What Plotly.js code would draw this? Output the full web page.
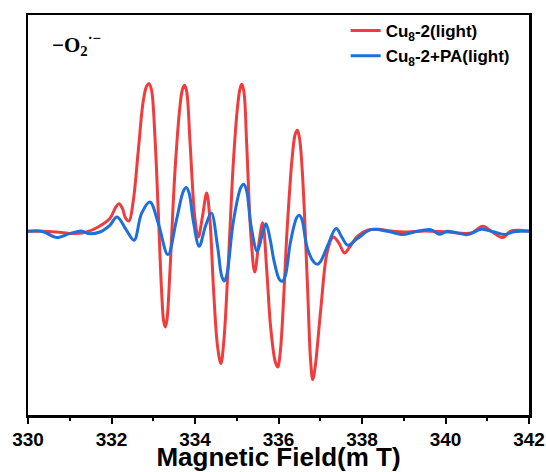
<!DOCTYPE html>
<html>
<head>
<meta charset="utf-8">
<script src="https://cdn.plot.ly/plotly-3.0.1.min.js"></script>
<style>html,body{margin:0;padding:0;background:#fff;}#chart{width:546px;height:472px;}</style>
</head>
<body>
<div id="chart"></div>
<script>
// Magnetic field (mT) and EPR signal (arbitrary units)
const redX = [330.00, 330.30, 330.68, 331.08, 331.40, 331.68, 331.96, 332.10, 332.18, 332.26, 332.34, 332.42, 332.52, 332.64, 332.76, 332.84, 332.90, 332.96, 333.04, 333.12, 333.20, 333.25, 333.29, 333.33, 333.40, 333.52, 333.64, 333.70, 333.75, 333.80, 333.88, 334.00, 334.08, 334.18, 334.28, 334.36, 334.44, 334.54, 334.62, 334.69, 334.80, 334.92, 335.02, 335.08, 335.12, 335.17, 335.24, 335.34, 335.43, 335.52, 335.62, 335.72, 335.81, 335.92, 335.98, 336.04, 336.21, 336.33, 336.40, 336.45, 336.50, 336.57, 336.69, 336.77, 336.82, 336.88, 337.01, 337.17, 337.31, 337.45, 337.58, 337.70, 337.89, 338.13, 338.40, 338.69, 339.09, 339.49, 340.05, 340.61, 340.89, 341.10, 341.37, 341.55, 341.73, 342.00];
const redY = [0, 0, -0.7, -2.3, -0.7, 4.3, 12.7, 24, 27.5, 23, 13, 10.3, 30, 80, 130, 145, 147.7, 141, 95, 20, -60, -90, -95.7, -88, -40, 60, 125, 142, 146, 140, 90, 12, -5.7, 15, 38.3, 10, -55, -115, -132.3, -110, -30, 70, 125, 143, 147, 140, 85, -5, -40.7, -15, 8.5, -40, -95, -130, -135.7, -122, 4.3, 75, 97, 101, 94, 60, -50, -130, -148.3, -135, -79, -20, -5.7, -12, -21.7, -16, -5, 1, 2, 0.3, -0.7, 0.3, -0.7, -1.7, 5, 0, -6.3, 0, 1, 0.3];

const blueX = [330.00, 330.28, 330.44, 330.68, 331.00, 331.28, 331.44, 331.72, 331.96, 332.13, 332.36, 332.54, 332.72, 332.92, 333.12, 333.35, 333.56, 333.72, 333.79, 333.86, 333.96, 334.10, 334.25, 334.39, 334.54, 334.64, 334.70, 334.76, 334.92, 335.10, 335.17, 335.24, 335.34, 335.49, 335.60, 335.70, 335.80, 335.89, 336.02, 336.09, 336.16, 336.29, 336.44, 336.50, 336.56, 336.69, 336.85, 336.93, 337.01, 337.17, 337.38, 337.52, 337.66, 337.89, 338.21, 338.61, 338.97, 339.25, 339.65, 339.85, 340.05, 340.53, 340.85, 341.17, 341.41, 341.61, 341.85, 342.00];
const blueY = [0, 0.3, -1.7, -6.3, -2.3, 0.3, -2.3, -0.7, 6, 14.3, 1, -9, 18, 29.3, 8, -23.3, 12, 40, 43.7, 38, 10, -15, 5, 18.3, -15, -45, -49.7, -44, 10, 44, 47, 40, 6, -20, -5, 7.5, -8, -29, -48, -50, -45, -10, 14, 16, 12, -17, -31, -33, -30, -15, 2.7, -6, -14, -7.3, 1.7, 0, -3.3, -0.7, 1.7, -3, 0, -3.3, 2, -0.7, -3.3, -0.7, 0, 0];

const seriesNames = ['Cu<sub>8</sub>-2(light)', 'Cu<sub>8</sub>-2+PA(light)'];
const xTicks = [330, 332, 334, 336, 338, 340, 342];

const traces = [
  {x: redX, y: redY, name: seriesNames[0], type: 'scatter', mode: 'lines',
   line: {color: '#F03C3C', width: 3, shape: 'spline', smoothing: 1}, legendgroup: 'a'},
  {x: blueX, y: blueY, name: seriesNames[1], type: 'scatter', mode: 'lines',
   line: {color: '#1F6FDB', width: 3, shape: 'spline', smoothing: 1}, legendgroup: 'b'}
];

const layout = {
  width: 546, height: 472,
  margin: {l: 28, r: 17, t: 15, b: 57},
  paper_bgcolor: '#fff', plot_bgcolor: '#fff',
  showlegend: true,
  legend: {x: 0.634, xanchor: 'left', y: 1.005, yanchor: 'top', bgcolor: 'rgba(0,0,0,0)',
           font: {family: 'Liberation Sans, Arial, sans-serif', size: 17, weight: 'bold', color: '#000'},
           tracegroupgap: 0},
  xaxis: {range: [330, 342], tickvals: xTicks, ticktext: xTicks.map(String),
          ticks: 'outside', ticklen: 6, tickwidth: 2, tickcolor: '#000',
          minor: {dtick: 1, ticks: 'outside', ticklen: 3, tickwidth: 2, tickcolor: '#000'},
          showline: true, linewidth: 2.5, linecolor: '#000', mirror: true,
          showgrid: false, zeroline: false,
          tickfont: {family: 'Liberation Sans, Arial, sans-serif', size: 19, weight: 'bold', color: '#000'},
          title: {text: 'Magnetic Field(m T)', standoff: 1,
                  font: {family: 'Liberation Sans, Arial, sans-serif', size: 26, weight: 'bold', color: '#000'}}},
  yaxis: {range: [-183.7, 216.3], showticklabels: false, ticks: '',
          showline: true, linewidth: 2.5, linecolor: '#000', mirror: true,
          showgrid: false, zeroline: false},
  annotations: [{xref: 'paper', yref: 'paper', x: 0.043, y: 0.925, xanchor: 'left', yanchor: 'middle',
                 showarrow: false, text: '<b>−O<sub>2</sub><sup>·−</sup></b>',
                 font: {family: 'Liberation Serif, DejaVu Serif, serif', size: 21, color: '#000'}}]
};

Plotly.newPlot('chart', traces, layout, {displayModeBar: false, staticPlot: true});
</script>
</body>
</html>
